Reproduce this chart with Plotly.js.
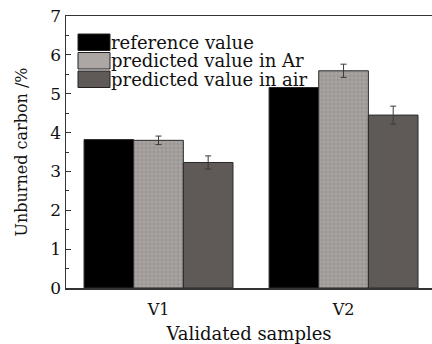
<!DOCTYPE html>
<html>
<head>
<meta charset="utf-8">
<script src="https://cdn.plot.ly/plotly-3.0.1.min.js"></script>
<style>html,body{margin:0;padding:0;background:#fff;overflow:hidden}#chart{width:432px;height:344px}</style>
</head>
<body>
<div id="chart"></div>
<script>
const samples = ['V1', 'V2'];
const seriesNames = ['reference value', 'predicted value in Ar', 'predicted value in air'];
const referenceValue = [3.82, 5.16];
const predictedAr = [3.80, 5.59];
const predictedArErr = [0.11, 0.17];
const predictedAir = [3.23, 4.45];
const predictedAirErr = [0.17, 0.23];
const yTicks = [0, 1, 2, 3, 4, 5, 6, 7];

const FONT = 'DejaVu Serif, serif';
const colors = ['#000000', '#9c9795', '#5f5a58'];
const line = {color: '#2a2a2a', width: 1};
const errStyle = {type: 'data', visible: true, color: '#3a3a3a', thickness: 1, width: 3};

const traces = [
  {type: 'bar', name: seriesNames[0], x: samples, y: referenceValue,
   marker: {color: colors[0], line: line}},
  {type: 'bar', name: seriesNames[1], x: samples, y: predictedAr,
   error_y: Object.assign({array: predictedArErr}, errStyle),
   marker: {color: colors[1], line: line,
            pattern: {shape: '+', fgcolor: '#bfbbb9', bgcolor: colors[1], size: 4, solidity: 0.2}}},
  {type: 'bar', name: seriesNames[2], x: samples, y: predictedAir,
   error_y: Object.assign({array: predictedAirErr}, errStyle),
   marker: {color: colors[2], line: line}}
];

// custom legend with large swatches (paper coords)
const plotL = 66, plotR = 432, plotT = 16, plotB = 288;
const px2x = p => (p - plotL) / (plotR - plotL);
const px2y = p => (plotB - p) / (plotB - plotT);
const rowTops = [34, 52.5, 71];
const rowH = 16.5;
const shapes = [], annotations = [];
seriesNames.forEach((n, i) => {
  shapes.push({type: 'rect', xref: 'paper', yref: 'paper',
    x0: px2x(78), x1: px2x(110), y0: px2y(rowTops[i] + rowH), y1: px2y(rowTops[i]),
    fillcolor: i === 1 ? '#aca7a5' : colors[i], line: {color: '#222', width: 1}});
  annotations.push({xref: 'paper', yref: 'paper', x: px2x(110), y: px2y(rowTops[i] + rowH / 2),
    xanchor: 'left', yanchor: 'middle', text: n, showarrow: false, borderpad: 0,
    font: {family: FONT, size: 18, color: '#111'}});
});

const layout = {
  width: 432, height: 344,
  margin: {l: 66, r: 0, t: 16, b: 56},
  paper_bgcolor: '#fff', plot_bgcolor: '#fff',
  showlegend: false,
  barmode: 'group', bargap: 0.195, bargroupgap: 0,
  font: {family: FONT, size: 17, color: '#111'},
  xaxis: {
    range: [-0.5, 1.478], showgrid: false, zeroline: false,
    showline: true, linecolor: '#333', linewidth: 1.5, mirror: true,
    ticks: '', ticklabelstandoff: 6, tickfont: {family: FONT, size: 16, color: '#111'},
    title: {text: 'Validated samples', font: {family: FONT, size: 18, color: '#111'}, standoff: 12}
  },
  yaxis: {
    range: [0, 7], tickvals: yTicks, ticktext: yTicks.map(String),
    showgrid: false, zeroline: false,
    showline: true, linecolor: '#333', linewidth: 1.5,
    ticks: 'inside', ticklen: 5, tickcolor: '#333', tickwidth: 1,
    minor: {ticks: 'inside', dtick: 0.5, ticklen: 3, tickcolor: '#333'},
    tickfont: {family: FONT, size: 17, color: '#111'},
    title: {text: 'Unburned carbon /%', font: {family: FONT, size: 16, color: '#111'}, standoff: 18}
  },
  shapes: shapes,
  annotations: annotations
};

Plotly.newPlot('chart', traces, layout, {displayModeBar: false, staticPlot: true});
</script>
</body>
</html>
